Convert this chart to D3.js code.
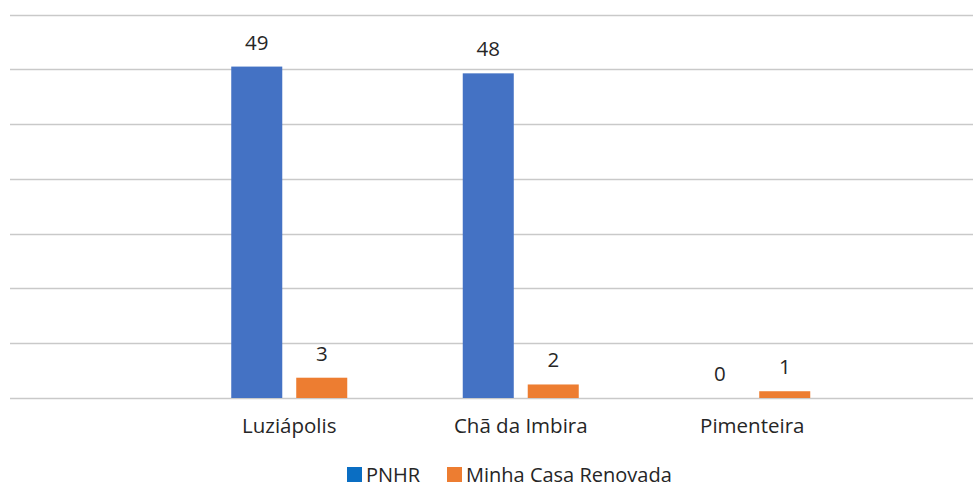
<!DOCTYPE html>
<html>
<head>
<meta charset="utf-8">
<script src="https://cdn.jsdelivr.net/npm/d3@7"></script>
<style>
  html, body { margin: 0; padding: 0; background: #fff; }
  svg { display: block; }
  text { font-family: "Open Sans", "Noto Sans", sans-serif; fill: #262626; }
</style>
</head>
<body>
<svg id="chart" width="973" height="488"></svg>
<script>
const categories = ["Luziápolis", "Chã da Imbira", "Pimenteira"];
const seriesNames = ["PNHR", "Minha Casa Renovada"];
const pnhr = [49, 48, 0];
const minhaCasa = [3, 2, 1];
const gridValues = [0, 8.1, 16.2, 24.3, 32.4, 40.5, 48.6, 56.7];

const barColors = ["#4472C4", "#ED7D31"];
const legendColors = ["#0A6EC3", "#ED7D31"];

const svg = d3.select("#chart");

const gridLeft = 10, gridRight = 973;
const y = d3.scaleLinear().domain([0, 56.7]).range([398, 14.5]);

const x = d3.scaleBand().domain(categories).range([173.5, 868]).paddingInner(0).paddingOuter(0);
const xInner = d3.scaleBand().domain(seriesNames).range([0, 116]).paddingInner(0.215).paddingOuter(0);

// gridlines
svg.append("g").selectAll("line").data(gridValues).join("line")
  .attr("x1", gridLeft).attr("x2", gridRight)
  .attr("y1", d => Math.round(y(d)) + 0.5).attr("y2", d => Math.round(y(d)) + 0.5)
  .attr("stroke", "#c9c9c9").attr("stroke-width", 1.6);

const data = categories.map((c, i) => ({
  cat: c,
  vals: [{s: seriesNames[0], v: pnhr[i], k: 0}, {s: seriesNames[1], v: minhaCasa[i], k: 1}]
}));

const groups = svg.append("g").selectAll("g").data(data).join("g")
  .attr("transform", d => `translate(${x(d.cat) + x.bandwidth() / 2 - 58},0)`);

groups.selectAll("rect").data(d => d.vals).join("rect")
  .attr("x", d => xInner(d.s))
  .attr("width", xInner.bandwidth())
  .attr("y", d => y(d.v))
  .attr("height", d => y(0) - y(d.v))
  .attr("fill", d => barColors[d.k]);

groups.selectAll("text.val").data(d => d.vals).join("text")
  .attr("class", "val")
  .attr("x", d => xInner(d.s) + xInner.bandwidth() / 2)
  .attr("y", d => y(d.v) - 17)
  .attr("text-anchor", "middle")
  .attr("font-size", 20.5)
  .text(d => d.v);

// category labels
svg.append("g").selectAll("text").data(categories).join("text")
  .attr("x", d => x(d) + x.bandwidth() / 2)
  .attr("y", 433)
  .attr("text-anchor", "middle")
  .attr("font-size", 20.5)
  .text(d => d);

// legend
const legendItems = [
  {name: seriesNames[0], color: legendColors[0], x: 347},
  {name: seriesNames[1], color: legendColors[1], x: 447}
];
const lg = svg.append("g").selectAll("g").data(legendItems).join("g")
  .attr("transform", d => `translate(${d.x},467)`);
lg.append("rect").attr("width", 15).attr("height", 15).attr("fill", d => d.color);
lg.append("text").attr("x", 19).attr("y", 15).attr("font-size", 20).text(d => d.name);
</script>
</body>
</html>
